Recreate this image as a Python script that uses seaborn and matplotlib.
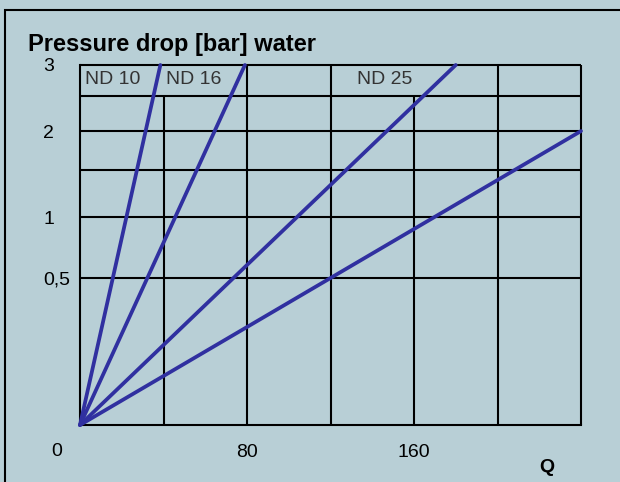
import numpy as np
import pandas as pd
import matplotlib
matplotlib.use("Agg")
import matplotlib.pyplot as plt
import seaborn as sns
from matplotlib.patches import Rectangle

# ---- data ----
series = ["ND 10", "ND 16", "ND 25", "ND 40"]
q_end = [38.5, 79, 180, 240]
p_end = [3, 3, 3, 2]

label_names = ["ND 10", "ND 16", "ND 25"]
label_q = [15.8, 54.4, 146.0]
label_p = [2.77, 2.77, 2.77]

y_grid = [0.5, 1, 1.5, 2, 2.5, 3]
y_tick_vals = [0.5, 1, 2, 3]
y_tick_labels = ["0,5", "1", "2", "3"]
x_grid = [40, 80, 120, 160, 200, 240]
x_short = [40, 160]
x_tick_vals = [80, 160]
x_tick_labels = ["80", "160"]

BG = "#b8cfd6"
LINE = "#3030a0"

rows = []
for s, q, p in zip(series, q_end, p_end):
    rows.append({"series": s, "Q": 0.0, "p": 0.0})
    rows.append({"series": s, "Q": q, "p": p})
df = pd.DataFrame(rows)

plt.rcParams["font.family"] = ["Liberation Sans", "DejaVu Sans"]

fig = plt.figure(figsize=(6.2, 4.82), dpi=100, facecolor=BG)
ax = fig.add_axes([80 / 620, 57 / 482, 501 / 620, 360 / 482])
ax.set_facecolor(BG)

ax.set_yscale("function", functions=(lambda v: np.sqrt(np.clip(v, 0, None)), lambda v: np.square(v)))
ax.set_xlim(0, 240)
ax.set_ylim(0, 3)

# grid
ax.hlines(y_grid, 0, 240, color="black", lw=1.5, clip_on=False, zorder=1)
for x in x_grid:
    top = 2.5 if x in x_short else 3
    ax.vlines(x, 0, top, color="black", lw=1.5, clip_on=False, zorder=1)

sns.lineplot(data=df, x="Q", y="p", units="series", estimator=None,
             color=LINE, lw=2.7, ax=ax, legend=False,
             solid_capstyle="round", clip_on=False, zorder=3)

for name, q, p in zip(label_names, label_q, label_p):
    ax.text(q, p, name, ha="center", va="center", fontsize=14, color="#333333")

for side in ["top", "right"]:
    ax.spines[side].set_visible(False)
for side in ["left", "bottom"]:
    ax.spines[side].set_color("black")
    ax.spines[side].set_linewidth(1.5)

ax.set_xlabel("")
ax.set_ylabel("")
ax.set_xticks(x_tick_vals)
ax.set_xticklabels(x_tick_labels, fontsize=14)
ax.set_yticks(y_tick_vals)
ax.set_yticklabels(y_tick_labels, fontsize=14, ha="left")
ax.yaxis.set_minor_locator(matplotlib.ticker.NullLocator())
ax.xaxis.set_minor_locator(matplotlib.ticker.NullLocator())
ax.tick_params(axis="y", length=0, pad=26.5)
ax.tick_params(axis="x", length=0, pad=14)

fig.text(28 / 620, 1 - 51 / 482, "Pressure drop [bar] water", ha="left", va="baseline",
         fontsize=17, fontweight="bold")
fig.text(57 / 620, 1 - 451 / 482, "0", ha="center", va="center", fontsize=14)
fig.text(547 / 620, 1 - 467 / 482, "Q", ha="center", va="center", fontsize=14, fontweight="bold")

fig.patches.append(Rectangle((5 / 620, -0.1), 1.2, 1 - 10 / 482 + 0.1,
                             transform=fig.transFigure, fill=False,
                             edgecolor="black", lw=1.5, figure=fig))

fig.savefig("out.png", dpi=100, facecolor=BG)
